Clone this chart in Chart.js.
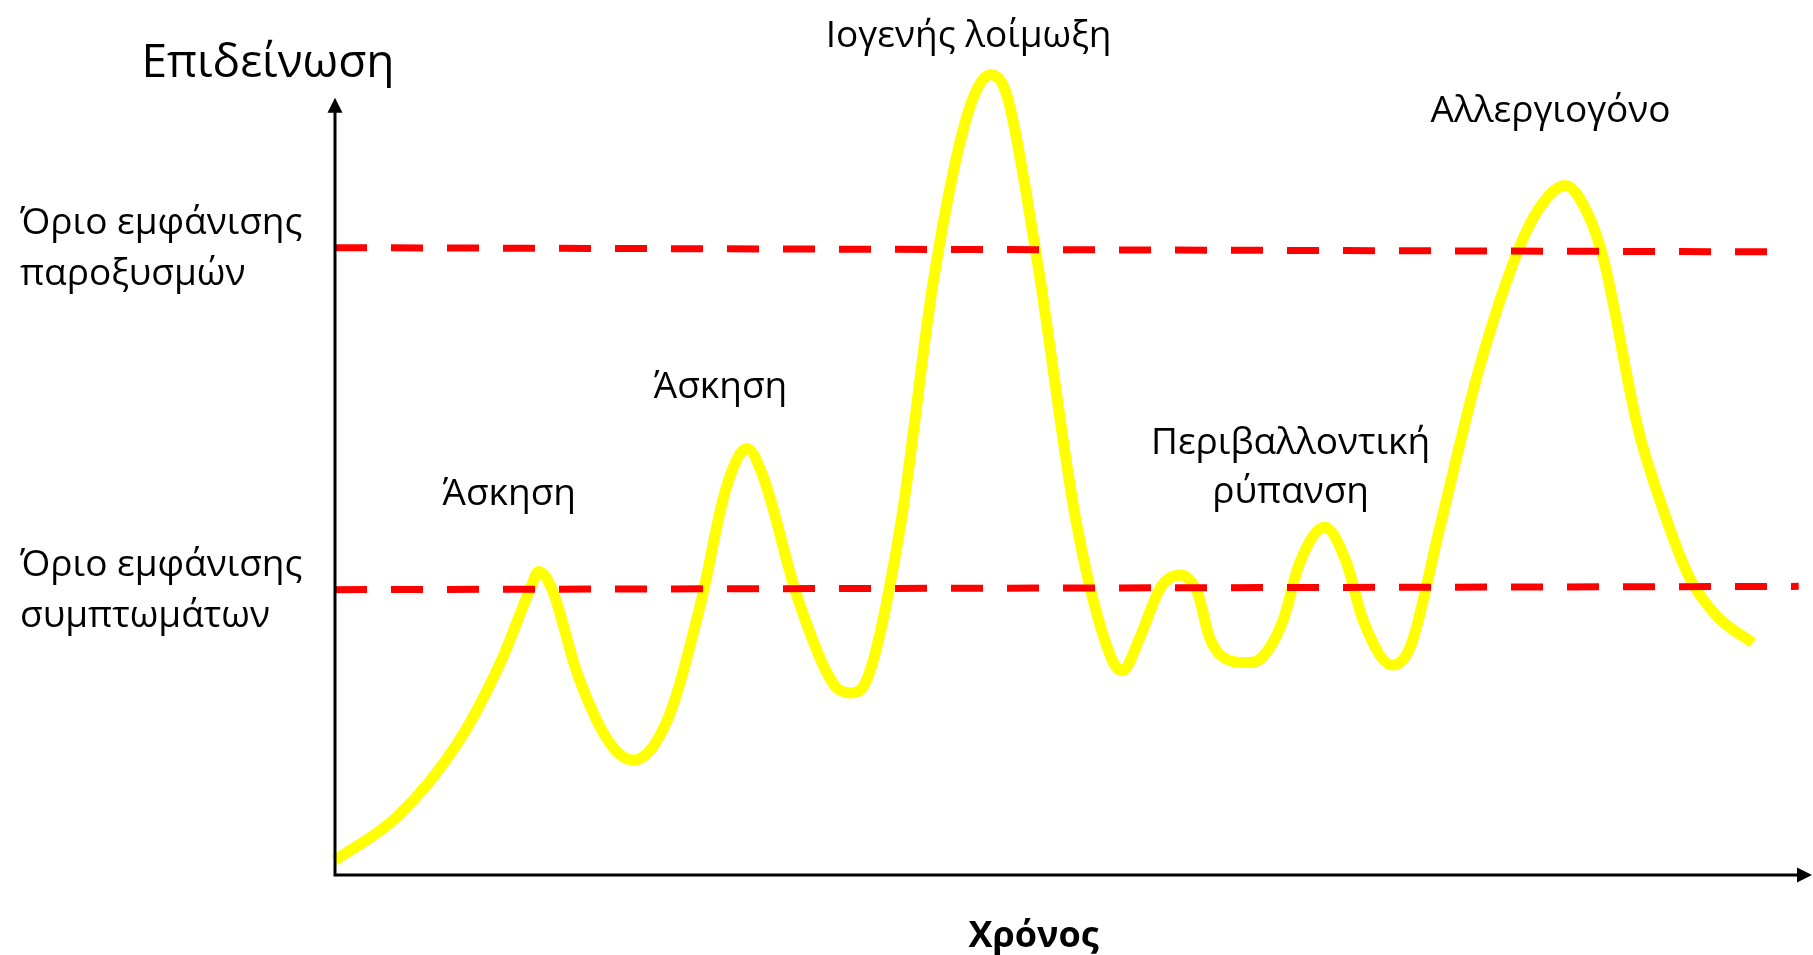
<!DOCTYPE html>
<html lang="el">

<head>
    <meta charset="UTF-8">
    <meta name="viewport" content="width=device-width, initial-scale=1.0">
    <title>Επιδείνωση στον χρόνο</title>
    <style>
        body {
            margin: 0;
            padding: 0;
            background-color: #ffffff;
        }

        .chart-container {
            width: 1813px;
            height: 955px;
        }
    </style>
    <script src="https://cdn.jsdelivr.net/npm/chart.js"></script>
</head>

<body>
    <div class="chart-container">
        <canvas id="myChart" width="1813" height="955"></canvas>
    </div>

    <script>
        // Καμπύλη επιδείνωσης: χρόνος (0-100) και ένταση (0-100)
        const timePoints = [
            0, 4.2, 8.3, 11.2, 13.2, 13.8, 14.7, 16.4, 18.6, 20.2,
            22.5, 24.7, 26.5, 27.9, 29.0, 31.3, 33.7, 34.9,
            36.0, 38.3, 40.5, 42.8, 44.4, 45.5, 47.5, 50.2, 52.5, 53.3,
            54.5, 55.9, 57.2, 58.4, 59.2, 60.1, 61.7, 62.8,
            64.2, 65.3, 67.0, 68.5, 69.6, 71.6,
            72.8, 74.8, 77.5, 80.2, 81.6, 83.3, 84.8, 85.9, 88.2, 89.7, 91.7, 93.6, 96.0
        ];
        const severity = [
            1.8, 7.1, 16.1, 25.9, 34.8, 37.0, 34.8, 24.6, 16.1, 14.0,
            18.9, 32.7, 47.3, 52.0, 48.5, 33.9, 23.4, 22.2,
            23.8, 42.8, 72.3, 92.6, 97.6, 95.0, 75.4, 42.9, 26.7, 24.9,
            29.0, 35.1, 36.6, 34.4, 29.0, 26.6, 25.9, 26.6,
            31.1, 38.0, 42.4, 38.0, 31.1, 25.6,
            27.8, 42.4, 62.0, 76.6, 81.5, 84.1, 80.7, 75.0, 54.6, 45.7, 36.3, 31.5, 28.3
        ];

        // Όρια (αρχή και τέλος κάθε διακεκομμένης γραμμής)
        const exacerbationTimes = [0, 97.0];
        const exacerbationLevel = [76.5, 76.0];
        const symptomTimes = [0, 99.1];
        const symptomLevel = [34.8, 35.2];

        // Κείμενα
        const thresholdNames = [
            ['Όριο εμφάνισης', 'παροξυσμών'],
            ['Όριο εμφάνισης', 'συμπτωμάτων']
        ];
        const eventNames = [
            ['Άσκηση'],
            ['Άσκηση'],
            ['Ιογενής λοίμωξη'],
            ['Περιβαλλοντική', 'ρύπανση'],
            ['Αλλεργιογόνο']
        ];
        const xTitle = 'Χρόνος';
        const yTitle = 'Επιδείνωση';

        // Θέσεις των ετικετών πάνω στους άξονες του γραφήματος
        const eventPlacement = [
            { x: 11.8, y: 45.1 },
            { x: 26.1, y: 58.2 },
            { x: 42.9, y: 101.0 },
            { x: 64.7, y: 51.3 },
            { x: 82.3, y: 91.8 }
        ];
        const yArrowTip = 94.8;

        function toPoints(xs, ys) {
            return xs.map((x, i) => ({ x: x, y: ys[i] }));
        }

        const textFont = '"Open Sans", "Noto Sans", sans-serif';

        // Άξονες με βέλη και όλα τα κείμενα
        const sketchPlugin = {
            id: 'sketchAxes',
            afterDatasetsDraw(chart) {
                const { ctx, chartArea, scales } = chart;
                const x0 = scales.x.getPixelForValue(0);
                const y0 = scales.y.getPixelForValue(0);
                const yTop = scales.y.getPixelForValue(yArrowTip);
                const xEnd = chartArea.right;

                ctx.save();
                ctx.strokeStyle = '#000000';
                ctx.fillStyle = '#000000';
                ctx.lineWidth = 3;

                ctx.beginPath();
                ctx.moveTo(x0, y0 + 1.5);
                ctx.lineTo(x0, yTop + 12);
                ctx.moveTo(x0 - 1.5, y0);
                ctx.lineTo(xEnd - 12, y0);
                ctx.stroke();

                ctx.beginPath();
                ctx.moveTo(x0, yTop);
                ctx.lineTo(x0 - 7.5, yTop + 15);
                ctx.lineTo(x0 + 7.5, yTop + 15);
                ctx.closePath();
                ctx.fill();

                ctx.beginPath();
                ctx.moveTo(xEnd, y0);
                ctx.lineTo(xEnd - 15, y0 - 7.5);
                ctx.lineTo(xEnd - 15, y0 + 7.5);
                ctx.closePath();
                ctx.fill();

                // Ετικέτες γεγονότων
                ctx.font = '37px ' + textFont;
                ctx.textAlign = 'center';
                ctx.textBaseline = 'alphabetic';
                eventNames.forEach((lines, i) => {
                    const px = scales.x.getPixelForValue(eventPlacement[i].x);
                    const py = scales.y.getPixelForValue(eventPlacement[i].y);
                    lines.forEach((line, j) => ctx.fillText(line, px, py + j * 49));
                });

                // Ονόματα ορίων αριστερά του άξονα
                ctx.textAlign = 'left';
                const levels = [exacerbationLevel[0], symptomLevel[0]];
                thresholdNames.forEach((lines, i) => {
                    const py = scales.y.getPixelForValue(levels[i]);
                    ctx.fillText(lines[0], 20, py - 14);
                    ctx.fillText(lines[1], 20, py + 37);
                });

                // Τίτλοι αξόνων
                ctx.textAlign = 'center';
                ctx.font = '46px ' + textFont;
                ctx.fillText(yTitle, 268, 77);
                ctx.font = 'bold 36px ' + textFont;
                ctx.fillText(xTitle, scales.x.getPixelForValue(47.3), y0 + 72);
                ctx.restore();
            }
        };

        const ctx = document.getElementById('myChart').getContext('2d');
        const myChart = new Chart(ctx, {
            type: 'line',
            data: {
                datasets: [
                    {
                        label: 'Όριο εμφάνισης παροξυσμών',
                        data: toPoints(exacerbationTimes, exacerbationLevel),
                        borderColor: '#ff0000',
                        borderWidth: 7,
                        borderDash: [32, 24],
                        borderCapStyle: 'butt',
                        pointRadius: 0,
                        clip: false,
                        order: 0
                    },
                    {
                        label: 'Όριο εμφάνισης συμπτωμάτων',
                        data: toPoints(symptomTimes, symptomLevel),
                        borderColor: '#ff0000',
                        borderWidth: 7,
                        borderDash: [32, 24],
                        borderCapStyle: 'butt',
                        pointRadius: 0,
                        clip: false,
                        order: 0
                    },
                    {
                        label: 'Επιδείνωση',
                        data: toPoints(timePoints, severity),
                        borderColor: '#ffff00',
                        borderWidth: 11,
                        borderCapStyle: 'butt',
                        borderJoinStyle: 'round',
                        cubicInterpolationMode: 'monotone',
                        pointRadius: 0,
                        clip: false,
                        order: 1
                    }
                ]
            },
            options: {
                responsive: false,
                animation: false,
                events: [],
                layout: {
                    padding: { left: 335, right: 1, top: 55, bottom: 80 }
                },
                plugins: {
                    legend: { display: false },
                    tooltip: { enabled: false }
                },
                scales: {
                    x: { type: 'linear', min: 0, max: 100, display: false },
                    y: { type: 'linear', min: 0, max: 100, display: false }
                }
            },
            plugins: [sketchPlugin]
        });
    </script>
</body>

</html>
